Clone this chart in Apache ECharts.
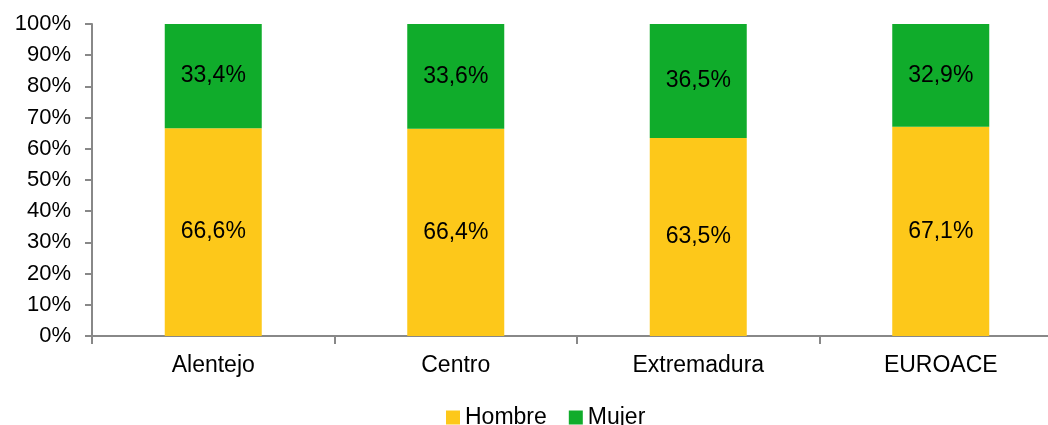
<!DOCTYPE html>
<html><head><meta charset="utf-8">
<script src="https://cdn.jsdelivr.net/npm/echarts@6/dist/echarts.min.js"></script>
<style>html,body{margin:0;padding:0;background:#fff;overflow:hidden;width:1048px;height:425px}#c{width:1062px;height:425px}</style>
</head><body><div id="c"></div>
<script>
const categories = ['Alentejo', 'Centro', 'Extremadura', 'EUROACE'];
const hombre = [66.6, 66.4, 63.5, 67.1];
const mujer = [33.4, 33.6, 36.5, 32.9];
const yTicks = [0, 10, 20, 30, 40, 50, 60, 70, 80, 90, 100];

const fmt = v => v.toFixed(1).replace('.', ',') + '%';
const font = 'Liberation Sans, Arial, sans-serif';
const chart = echarts.init(document.getElementById('c'));
chart.setOption({
  animation: false,
  textStyle: { fontFamily: font },
  grid: { left: 92, right: 0, top: 24, height: 312, containLabel: false },
  legend: {
    top: 406, left: 446, padding: 0, itemWidth: 14, itemHeight: 14, itemGap: 22,
    icon: 'rect',
    textStyle: { fontSize: 23, color: '#000', fontFamily: font, padding: 0 },
    data: ['Hombre', 'Mujer']
  },
  xAxis: {
    type: 'category', data: categories,
    axisLine: { lineStyle: { color: '#888', width: 2 } },
    axisTick: { show: true, length: 8, lineStyle: { color: '#888', width: 2 } },
    axisLabel: { fontSize: 23, color: '#000', margin: 18, fontFamily: font }
  },
  yAxis: {
    type: 'value', min: 0, max: 100, interval: 10,
    axisLine: { show: true, lineStyle: { color: '#888', width: 2 } },
    axisTick: { show: true, length: 7, lineStyle: { color: '#888', width: 2 } },
    splitLine: { show: false },
    axisLabel: { fontSize: 22, color: '#000', margin: 21, fontFamily: font,
      formatter: v => yTicks.includes(v) ? v + '%' : '' }
  },
  series: [
    { name: 'Hombre', type: 'bar', stack: 's', data: hombre, barWidth: '40%',
      itemStyle: { color: '#FDC81A' },
      label: { show: true, position: 'inside', fontSize: 23, color: '#000', fontFamily: font,
        formatter: p => fmt(p.value) } },
    { name: 'Mujer', type: 'bar', stack: 's', data: mujer, barWidth: '40%',
      itemStyle: { color: '#10AC2B' },
      label: { show: true, position: 'inside', fontSize: 23, color: '#000', fontFamily: font,
        formatter: p => fmt(p.value) } }
  ]
});
</script></body></html>
